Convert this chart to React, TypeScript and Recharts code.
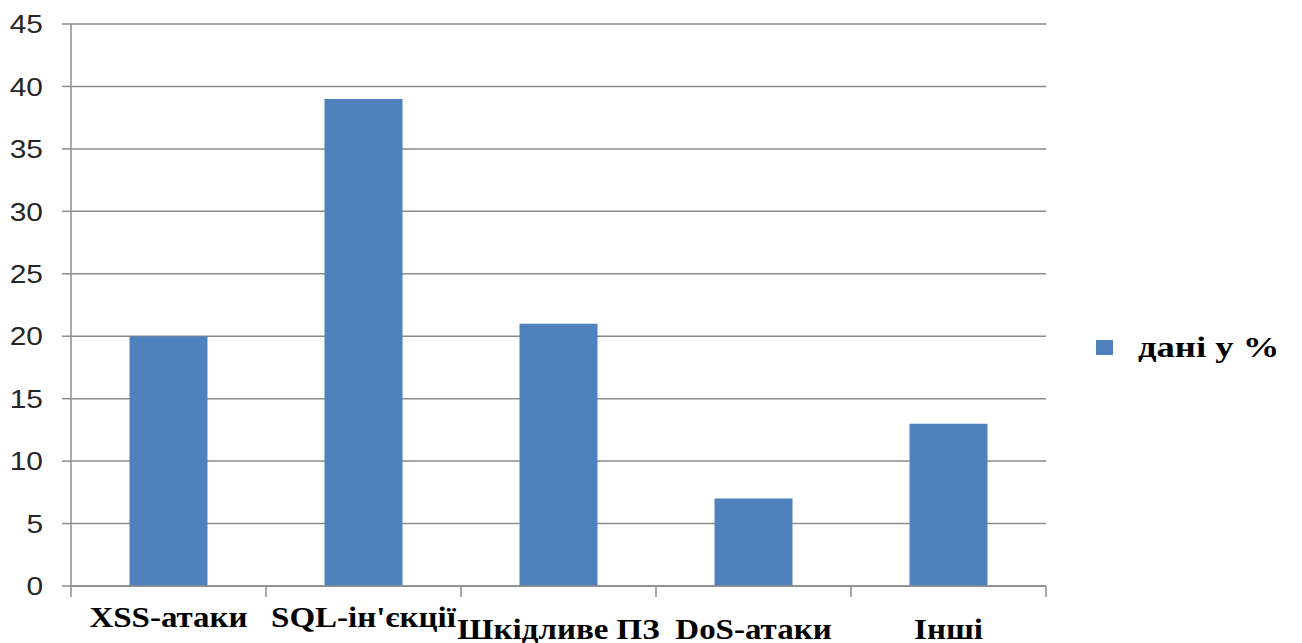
import { Bar, BarChart, CartesianGrid, Legend, XAxis, YAxis } from "recharts";

const categories = ["XSS-атаки", "SQL-ін'єкції", "Шкідливе ПЗ", "DoS-атаки", "Інші"];
const shares = [20, 39, 21, 7, 13];
const yTicks = [0, 5, 10, 15, 20, 25, 30, 35, 40, 45];
const seriesName = "дані у %";

const data = categories.map((name, i) => ({ name, value: shares[i] }));

const BAR = "#4f81bd";
const GRID = "#8c8c8c";
const SERIF = "'Liberation Serif', 'Times New Roman', serif";

// the source picture is a bit stretched sideways, so the texts are too
function CategoryTick(props: any) {
  const { x, y, payload, index } = props;
  const half = payload?.offset ?? 97.5;
  const row = index < 2 ? 0 : 1;
  return (
    <g>
      <line x1={x - half} x2={x - half} y1={y} y2={y + 11} stroke={GRID} strokeWidth={1.5} />
      {index === categories.length - 1 && (
        <line x1={x + half} x2={x + half} y1={y} y2={y + 11} stroke={GRID} strokeWidth={1.5} />
      )}
      <text
        x={0}
        y={0}
        transform={`translate(${x},${y + 41 + row * 12}) scale(1.1,1)`}
        textAnchor="middle"
        fontFamily={SERIF}
        fontWeight="bold"
        fontSize={30}
        fill="#000"
      >
        {payload.value}
      </text>
    </g>
  );
}

function ValueTick(props: any) {
  const { x, y, payload } = props;
  return (
    <text
      x={0}
      y={0}
      dy="0.355em"
      transform={`translate(${x},${y}) scale(1.15,1)`}
      textAnchor="end"
      fontFamily="'Liberation Sans', Arial, sans-serif"
      fontSize={26}
      fill="#262626"
    >
      {payload.value}
    </text>
  );
}

function LegendBox() {
  return (
    <div style={{ display: "flex", alignItems: "center", height: 40 }}>
      <span style={{ width: 17, height: 15, background: BAR, display: "inline-block" }} />
      <span
        style={{
          marginLeft: 25,
          fontFamily: SERIF,
          fontWeight: "bold",
          fontSize: 30,
          color: "#000",
          display: "inline-block",
          transform: "scaleX(1.22)",
          transformOrigin: "left center",
          whiteSpace: "nowrap",
        }}
      >
        {seriesName}
      </span>
    </div>
  );
}

export default function App() {
  return (
    <div style={{ position: "absolute", left: 0, top: 0, background: "#fff" }}>
      <BarChart
        width={1302}
        height={643}
        data={data}
        margin={{ top: 24, right: 56, bottom: 0, left: 0 }}
        barCategoryGap="30%"
      >
        <CartesianGrid vertical={false} stroke={GRID} strokeWidth={1.5} />
        <XAxis
          dataKey="name"
          height={57}
          interval={0}
          tickLine={false}
          tickSize={0}
          tickMargin={0}
          axisLine={{ stroke: GRID, strokeWidth: 1.5 }}
          tick={<CategoryTick />}
        />
        <YAxis
          width={71}
          domain={[0, 45]}
          ticks={yTicks}
          interval={0}
          tickSize={9}
          tickMargin={19}
          axisLine={{ stroke: GRID, strokeWidth: 1.5 }}
          tickLine={{ stroke: GRID, strokeWidth: 1.5 }}
          tick={<ValueTick />}
        />
        <Legend
          layout="horizontal"
          align="right"
          verticalAlign="middle"
          wrapperStyle={{ left: 1096, top: 327, width: 200 }}
          content={<LegendBox />}
        />
        <Bar dataKey="value" name={seriesName} fill={BAR} isAnimationActive={false} />
      </BarChart>
    </div>
  );
}
